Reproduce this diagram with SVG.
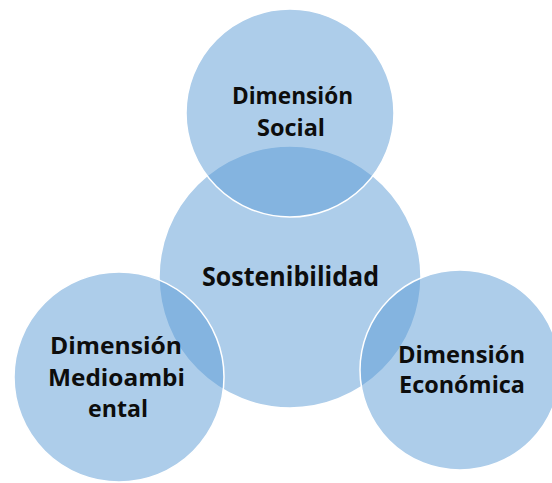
<svg xmlns="http://www.w3.org/2000/svg" width="552" height="483" viewBox="0 0 552 483">
  <style>
    .c { fill: #5b9bd5; fill-opacity: 0.5; stroke: #ffffff; stroke-width: 1.5; }
    .t { font-family: "Open Sans", "Liberation Sans", sans-serif; font-weight: 700; font-size: 23.5px; fill: #0d0d0d; text-anchor: middle; }
    .big { font-size: 26.5px; }
  </style>
  <rect width="552" height="483" fill="#ffffff"/>
  <g id="sostenibilidad">
    <circle class="c" cx="290" cy="277" r="131"/>
    <text class="t big" x="290.5" y="286" textLength="177" lengthAdjust="spacingAndGlyphs">Sostenibilidad</text>
  </g>
  <g id="social">
    <circle class="c" cx="290" cy="113" r="104"/>
    <text class="t" x="292.5" y="104" textLength="121" lengthAdjust="spacingAndGlyphs">Dimensión</text>
    <text class="t" x="291" y="136" textLength="68" lengthAdjust="spacingAndGlyphs">Social</text>
  </g>
  <g id="medioambiental">
    <circle class="c" cx="119" cy="377" r="105"/>
    <text class="t" x="116" y="354" textLength="132" lengthAdjust="spacingAndGlyphs">Dimensión</text>
    <text class="t" x="116.5" y="386" textLength="137" lengthAdjust="spacingAndGlyphs">Medioambi</text>
    <text class="t" x="118" y="417" textLength="60" lengthAdjust="spacingAndGlyphs">ental</text>
  </g>
  <g id="economica">
    <circle class="c" cx="460" cy="370" r="100"/>
    <text class="t" x="461.5" y="363" textLength="127" lengthAdjust="spacingAndGlyphs">Dimensión</text>
    <text class="t" x="462" y="393" textLength="126" lengthAdjust="spacingAndGlyphs">Económica</text>
  </g>
  <g id="connectors"/>
</svg>
